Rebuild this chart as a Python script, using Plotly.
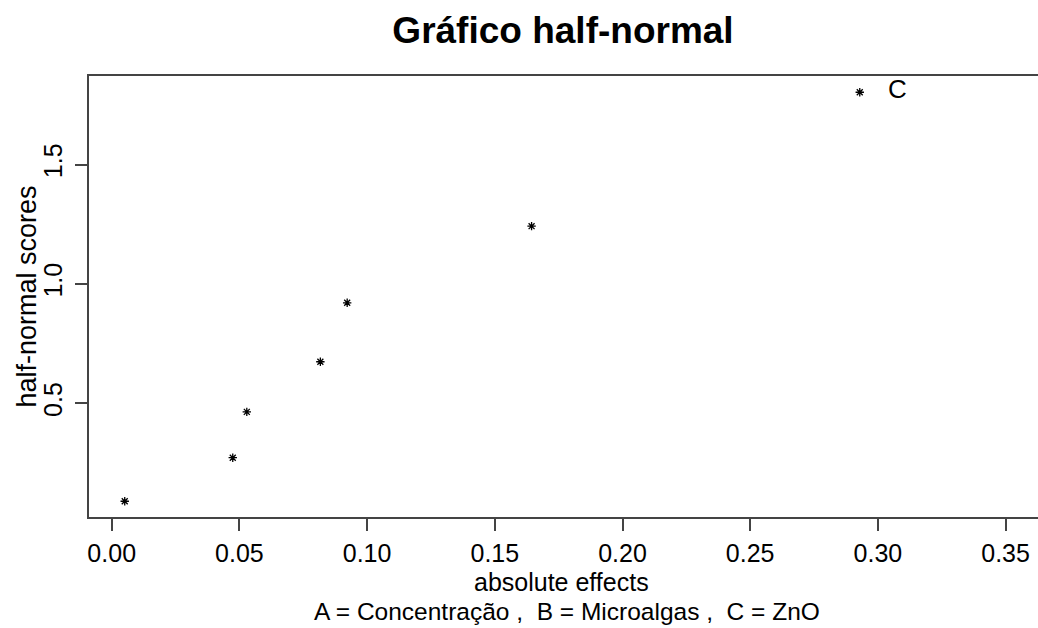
import plotly.graph_objects as go

# Data
abs_effects = [0.0051, 0.0474, 0.0529, 0.0817, 0.0922, 0.1644, 0.2929]
hn_scores = [0.0896, 0.272, 0.464, 0.674, 0.921, 1.242, 1.803]
labelled_effect = "C"
x_ticks = [0.00, 0.05, 0.10, 0.15, 0.20, 0.25, 0.30, 0.35]
x_tick_labels = ["0.00", "0.05", "0.10", "0.15", "0.20", "0.25", "0.30", "0.35"]
y_ticks = [0.5, 1.0, 1.5]
y_tick_labels = ["0.5", "1.0", "1.5"]
title_text = "Gráfico half-normal"
x_title = "absolute effects"
y_title = "half-normal scores"
legend_text = "A = Concentração ,  B = Microalgas ,  C = ZnO"

FONT = "Liberation Sans, Arial, sans-serif"
AX = "#444444"

fig = go.Figure()
fig.add_trace(go.Scatter(
    x=abs_effects, y=hn_scores, mode="markers",
    marker=dict(symbol="asterisk-open", size=7, color="black",
                line=dict(color="black", width=1.3)),
    showlegend=False, hoverinfo="skip"))

fig.update_layout(
    width=1038, height=628,
    margin=dict(l=89, r=0, t=76, b=111),
    paper_bgcolor="white", plot_bgcolor="white",
    font=dict(family=FONT, color="black"),
    title=dict(text="<b>" + title_text + "</b>", x=563 / 1038, xref="container",
               xanchor="center", y=1 - 30 / 628, yref="container", yanchor="middle",
               font=dict(size=37, family=FONT, color="black")),
    xaxis=dict(range=[-0.00889, 0.36269], tickvals=x_ticks, ticktext=x_tick_labels,
               showgrid=False, zeroline=False, showline=True, mirror=True,
               linecolor=AX, linewidth=1.5, ticks="outside", ticklen=12,
               tickwidth=1.5, tickcolor=AX, tickfont=dict(size=25, family=FONT),
               ticklabelstandoff=1),
    yaxis=dict(range=[0.0237, 1.871], tickvals=y_ticks, ticktext=y_tick_labels,
               showgrid=False, zeroline=False, showline=True, mirror=False,
               linecolor=AX, linewidth=1.5, ticks="outside", ticklen=12,
               tickwidth=1.5, tickcolor=AX, tickangle=-90,
               tickfont=dict(size=25, family=FONT), ticklabelstandoff=3),
)

fig.add_annotation(x=abs_effects[-1], y=hn_scores[-1], xref="x", yref="y",
                   text=labelled_effect, showarrow=False, xanchor="left",
                   yanchor="middle", xshift=26, yshift=3,
                   font=dict(size=26, family=FONT, color="black"))
fig.add_annotation(x=(561.5 - 89) / 949, y=0, xref="paper", yref="paper",
                   text=x_title, showarrow=False, xanchor="center", yanchor="middle",
                   yshift=-65, font=dict(size=25, family=FONT, color="black"))
fig.add_annotation(x=(567 - 89) / 949, y=0, xref="paper", yref="paper",
                   text=legend_text, showarrow=False, xanchor="center", yanchor="middle",
                   yshift=-94, font=dict(size=24.5, family=FONT, color="black"))
fig.add_annotation(x=0, y=0.5, xref="paper", yref="paper",
                   text=y_title, showarrow=False, xanchor="center", yanchor="middle",
                   xshift=-63, textangle=-90,
                   font=dict(size=27, family=FONT, color="black"))

fig.write_html("out.html")
